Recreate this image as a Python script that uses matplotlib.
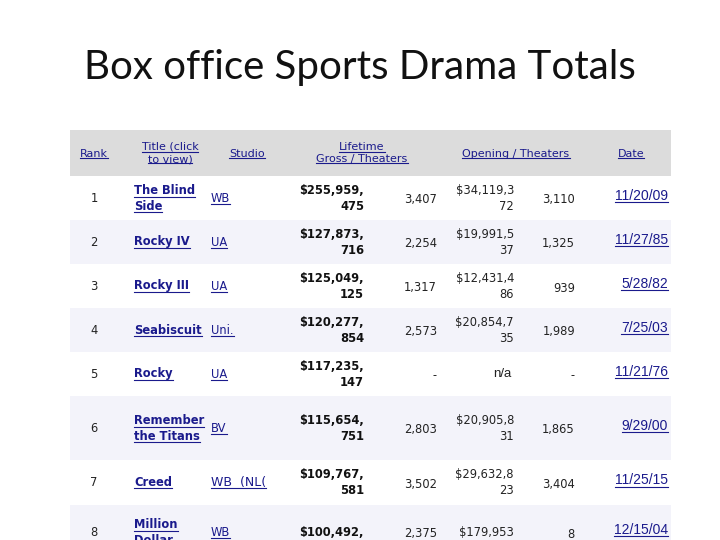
import matplotlib
matplotlib.use("Agg")
import matplotlib.pyplot as plt
from matplotlib.patches import Rectangle

ranks = ["1", "2", "3", "4", "5", "6", "7", "8"]
titles = ["The Blind\nSide", "Rocky IV", "Rocky III", "Seabiscuit", "Rocky", "Remember\nthe Titans", "Creed", "Million\nDollar"]
studios = ["WB", "UA", "UA", "Uni.", "UA", "BV", "WB  (NL(", "WB"]
gross = ["$255,959,\n475", "$127,873,\n716", "$125,049,\n125", "$120,277,\n854", "$117,235,\n147", "$115,654,\n751", "$109,767,\n581", "$100,492,"]
gross_th = ["3,407", "2,254", "1,317", "2,573", "-", "2,803", "3,502", "2,375"]
opening = ["$34,119,3\n72", "$19,991,5\n37", "$12,431,4\n86", "$20,854,7\n35", "n/a", "$20,905,8\n31", "$29,632,8\n23", "$179,953"]
open_th = ["3,110", "1,325", "939", "1,989", "-", "1,865", "3,404", "8"]
dates = ["11/20/09", "11/27/85", "5/28/82", "7/25/03", "11/21/76", "9/29/00", "11/25/15", "12/15/04"]

row_edges = [176, 220, 264, 308, 352, 396, 460, 505, 570]
BLUE = "#1a1a8c"

fig = plt.figure(figsize=(7.2, 5.4), dpi=100)
ax = fig.add_axes([0, 0, 1, 1])
ax.set_xlim(0, 720)
ax.set_ylim(540, 0)
ax.axis("off")

ax.text(360, 68, "Box office Sports Drama Totals", ha="center", va="center",
        fontsize=29, family="Lato", color="#111111")

ax.add_patch(Rectangle((70, 130), 601, 46, color="#dcdcdc", lw=0))
for i in range(len(ranks)):
    if i % 2 == 1:
        ax.add_patch(Rectangle((70, row_edges[i]), 601, row_edges[i+1]-row_edges[i], color="#f3f3fa", lw=0))

fig.canvas.draw()
r = fig.canvas.get_renderer()

def txt(x, y, s, ha="left", underline=False, **kw):
    t = ax.text(x, y, s, ha=ha, va="center", **kw)
    if underline:
        bb = t.get_window_extent(renderer=r)
        inv = ax.transData.inverted()
        lines = s.split("\n")
        n = len(lines)
        (x0, y0), (x1, y1) = inv.transform([(bb.x0, bb.y0), (bb.x1, bb.y1)])
        top, bot = min(y0, y1), max(y0, y1)
        lh = (bot - top) / n
        for k, ln in enumerate(lines):
            tt = ax.text(0, 0, ln, **kw)
            w = tt.get_window_extent(renderer=r).width
            tt.remove()
            w = w * 720 / fig.bbox.width
            if ha == "left":
                a, b = x0, x0 + w
            elif ha == "right":
                a, b = x1 - w, x1
            else:
                a, b = (x0 + x1) / 2 - w / 2, (x0 + x1) / 2 + w / 2
            yy = top + lh * (k + 1) - 1
            ax.plot([a, b], [yy, yy], color=kw.get("color", BLUE), lw=0.8)
    return t

hf = dict(fontsize=8, family="DejaVu Sans", color=BLUE)
txt(94, 154, "Rank", ha="center", underline=True, **hf)
txt(170, 153, "Title (click\nto view)", ha="center", underline=True, linespacing=1.3, **hf)
txt(247, 154, "Studio", ha="center", underline=True, **hf)
txt(362, 153, "Lifetime\nGross / Theaters", ha="center", underline=True, linespacing=1.3, **hf)
txt(516, 154, "Opening / Theaters", ha="center", underline=True, **hf)
txt(631, 154, "Date", ha="center", underline=True, **hf)

for i in range(len(ranks)):
    yc = (row_edges[i] + row_edges[i+1]) / 2
    if i == 7:
        yc = 532
    txt(94, yc, ranks[i], ha="center", fontsize=8.3, color="#222222")
    txt(134, yc, titles[i], underline=True, fontsize=8.3, fontweight="bold", color=BLUE, linespacing=1.3)
    txt(211, yc, studios[i], underline=True, fontsize=9 if i == 6 else 8.3, color=BLUE)
    txt(364, yc, gross[i], ha="right", fontsize=8.3, fontweight="bold", color="#111111", linespacing=1.3)
    txt(437, yc + 2, gross_th[i], ha="right", fontsize=8.3, color="#222222")
    if opening[i] == "n/a":
        txt(502, yc, "n/a", ha="center", fontsize=9.5, family="Liberation Sans", color="#222222")
    else:
        txt(514, yc, opening[i], ha="right", fontsize=8.3, color="#222222", linespacing=1.3)
    txt(575, yc + 2, open_th[i], ha="right", fontsize=8.3, color="#222222")
    txt(668, yc - 2, dates[i], ha="right", underline=True, fontsize=10, family="Liberation Sans", color=BLUE)

fig.savefig("out.png", dpi=100)
